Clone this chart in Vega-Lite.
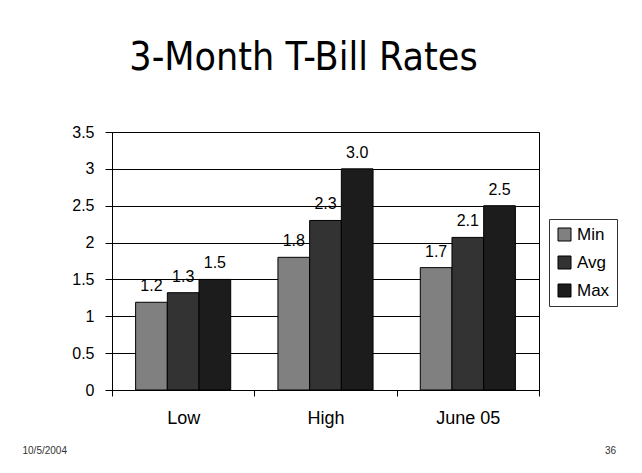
{
  "$schema": "https://vega.github.io/schema/vega-lite/v6.json",
  "autosize": "none",
  "width": 427,
  "height": 258,
  "padding": {"left": 112, "top": 132, "right": 103, "bottom": 83},
  "background": "white",
  "title": {
    "text": "3-Month T-Bill Rates",
    "font": "DejaVu Sans Condensed",
    "fontSize": 39,
    "fontWeight": "normal",
    "color": "black",
    "anchor": "middle",
    "dx": -22,
    "offset": 46
  },
  "data": {
    "values": [
      {"group": "Low", "series": "Min", "value": 1.19},
      {"group": "Low", "series": "Avg", "value": 1.32},
      {"group": "Low", "series": "Max", "value": 1.5},
      {"group": "High", "series": "Min", "value": 1.8},
      {"group": "High", "series": "Avg", "value": 2.3},
      {"group": "High", "series": "Max", "value": 3.0},
      {"group": "June 05", "series": "Min", "value": 1.66},
      {"group": "June 05", "series": "Avg", "value": 2.07},
      {"group": "June 05", "series": "Max", "value": 2.5}
    ]
  },
  "encoding": {
    "x": {
      "field": "group",
      "type": "nominal",
      "sort": ["Low", "High", "June 05"],
      "scale": {"paddingInner": 0, "paddingOuter": 0},
      "axis": {
        "title": "36",
        "titleX": 498,
        "titleY": 60,
        "titleAlign": "center",
        "titleBaseline": "middle",
        "titleFont": "Liberation Sans",
        "titleFontSize": 10,
        "titleFontWeight": "normal",
        "titleColor": "#333333",
        "labelAngle": 0,
        "labelFont": "Liberation Sans",
        "labelFontSize": 18,
        "labelColor": "black",
        "labelPadding": 13,
        "tickBand": "extent",
        "tickSize": 6,
        "tickColor": "black",
        "domainColor": "black",
        "grid": false
      }
    },
    "xOffset": {
      "field": "series",
      "type": "nominal",
      "sort": ["Min", "Avg", "Max"],
      "scale": {"paddingInner": 0, "paddingOuter": 0.745}
    },
    "y": {
      "field": "value",
      "type": "quantitative",
      "scale": {"domain": [0, 3.5], "nice": false},
      "axis": {
        "values": [0, 0.5, 1, 1.5, 2, 2.5, 3, 3.5],
        "format": ".1~f",
        "title": "10/5/2004",
        "titleAngle": 0,
        "titleX": -90,
        "titleY": 318,
        "titleAlign": "left",
        "titleBaseline": "middle",
        "titleFont": "Liberation Sans",
        "titleFontSize": 10,
        "titleFontWeight": "normal",
        "titleColor": "#333333",
        "labelFont": "Liberation Sans",
        "labelFontSize": 16,
        "labelColor": "black",
        "labelPadding": 11,
        "tickSize": 7,
        "tickColor": "black",
        "domainColor": "black",
        "gridColor": "black",
        "gridOpacity": 1
      }
    }
  },
  "layer": [
    {
      "mark": {"type": "bar", "stroke": "black", "strokeWidth": 1},
      "encoding": {
        "color": {
          "field": "series",
          "type": "nominal",
          "scale": {"domain": ["Min", "Avg", "Max"], "range": ["#808080", "#333333", "#1c1c1c"]},
          "legend": {
            "title": null,
            "orient": "none",
            "legendX": 437,
            "legendY": 87,
            "symbolType": "square",
            "symbolSize": 169,
            "symbolStrokeColor": "black",
            "symbolStrokeWidth": 1,
            "symbolOpacity": 1,
            "labelFont": "Liberation Sans",
            "labelFontSize": 17,
            "labelColor": "black",
            "rowPadding": 10,
            "padding": 7,
            "strokeColor": "#333333",
            "fillColor": "white"
          }
        }
      }
    },
    {
      "mark": {"type": "text", "baseline": "alphabetic", "dy": -11, "font": "Liberation Sans", "fontSize": 16, "color": "black"},
      "encoding": {
        "text": {"field": "value", "type": "quantitative", "format": ".1f"}
      }
    }
  ],
  "config": {
    "view": {"stroke": "black", "strokeWidth": 1}
  }
}
